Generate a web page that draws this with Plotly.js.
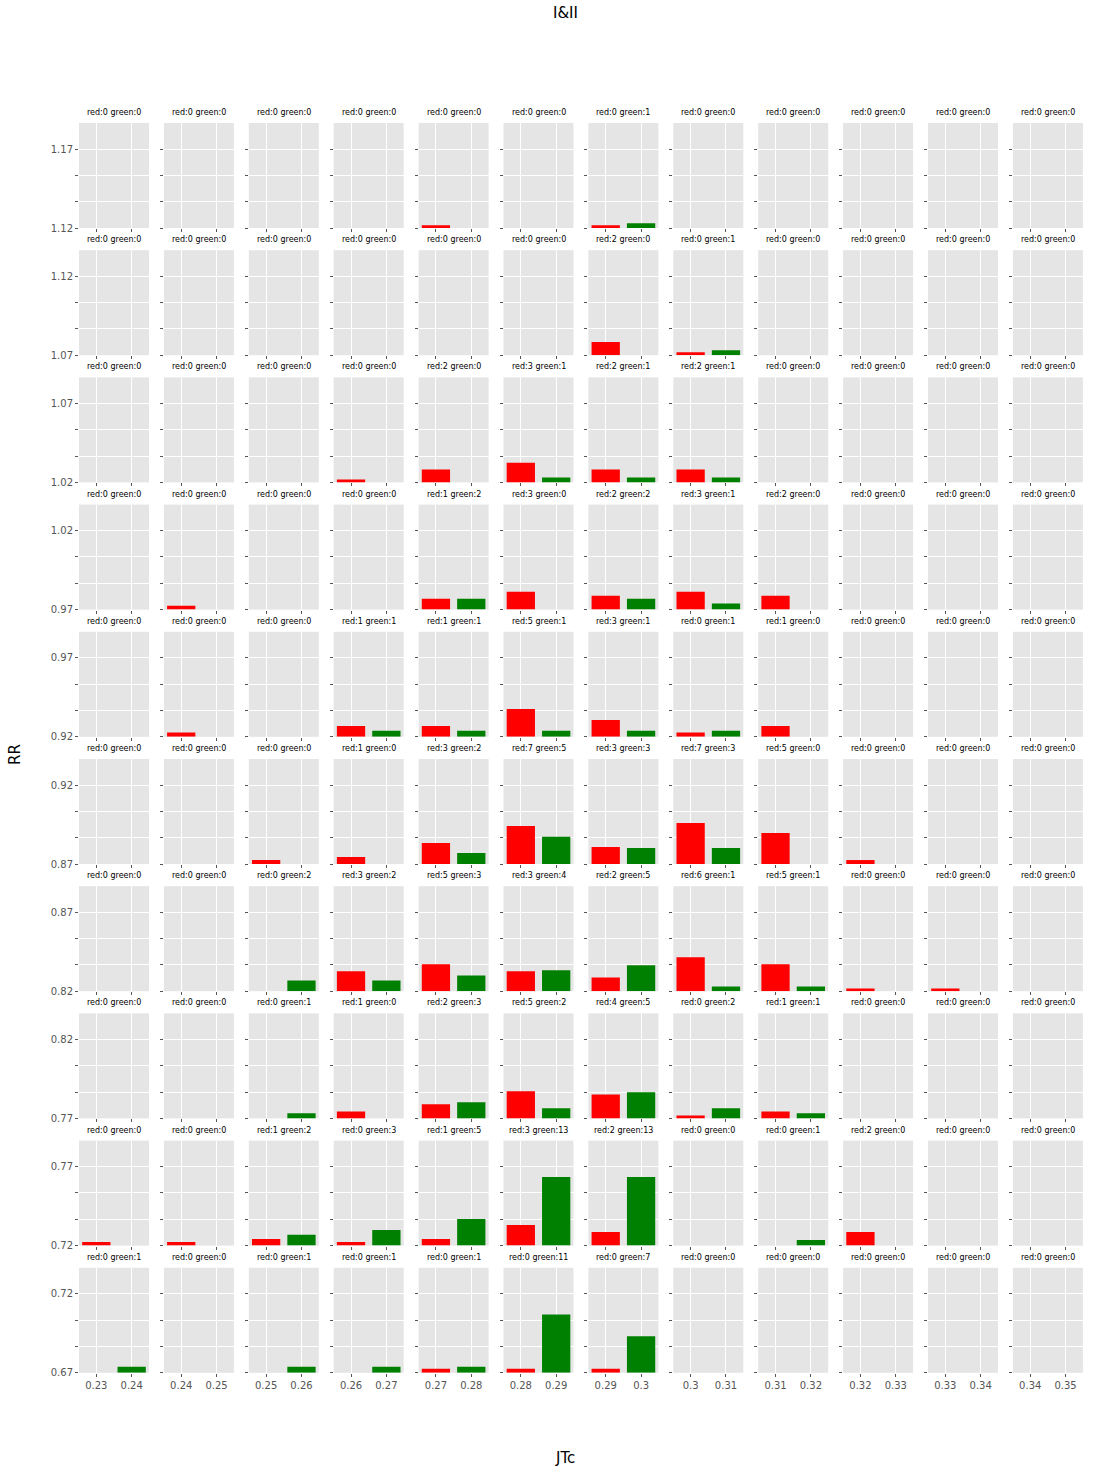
<!DOCTYPE html>
<html>
<head>
<meta charset="utf-8">
<script src="https://cdn.plot.ly/plotly-3.0.1.min.js"></script>
<style>
  html, body { margin: 0; padding: 0; background: #fff; }
  #chart { width: 1093px; height: 1474px; }
</style>
</head>
<body>
<div id="chart"></div>
<script>
// ---- data (rows top->bottom, cols left->right) ----
const rowBases = [1.12, 1.07, 1.02, 0.97, 0.92, 0.87, 0.82, 0.77, 0.72, 0.67];
const rowTopLabels = ['1.17', '1.12', '1.07', '1.02', '0.97', '0.92', '0.87', '0.82', '0.77', '0.72'];
const rowBaseLabels = ['1.12', '1.07', '1.02', '0.97', '0.92', '0.87', '0.82', '0.77', '0.72', '0.67'];

const colCats = [
  ['0.23', '0.24'], ['0.24', '0.25'], ['0.25', '0.26'], ['0.26', '0.27'],
  ['0.27', '0.28'], ['0.28', '0.29'], ['0.29', '0.3'],  ['0.3', '0.31'],
  ['0.31', '0.32'], ['0.32', '0.33'], ['0.33', '0.34'], ['0.34', '0.35']
];

// bar heights above each row's base
const redHeights = [
  [0, 0, 0, 0, 0.0017, 0, 0.0017, 0, 0, 0, 0, 0],
  [0, 0, 0, 0, 0, 0, 0.0083, 0.0019, 0, 0, 0, 0],
  [0, 0, 0, 0.0019, 0.0081, 0.0125, 0.0081, 0.0081, 0, 0, 0, 0],
  [0, 0.0025, 0, 0, 0.0069, 0.0113, 0.0088, 0.0113, 0.0088, 0, 0, 0],
  [0, 0.0027, 0, 0.0069, 0.0069, 0.0176, 0.0107, 0.0027, 0.0069, 0, 0, 0],
  [0, 0, 0.0025, 0.0044, 0.0133, 0.0241, 0.0108, 0.026, 0.0197, 0.0025, 0, 0],
  [0, 0, 0, 0.0126, 0.017, 0.0126, 0.0087, 0.0215, 0.017, 0.0017, 0.0017, 0],
  [0, 0, 0, 0.0044, 0.0089, 0.0172, 0.0152, 0.0019, 0.0044, 0, 0, 0],
  [0.0023, 0.0023, 0.0042, 0.0023, 0.0042, 0.0131, 0.0086, 0, 0, 0.0086, 0, 0],
  [0, 0, 0, 0, 0.0025, 0.0025, 0.0025, 0, 0, 0, 0, 0]
];
const greenHeights = [
  [0, 0, 0, 0, 0, 0, 0.003, 0, 0, 0, 0, 0],
  [0, 0, 0, 0, 0, 0, 0, 0.0032, 0, 0, 0, 0],
  [0, 0, 0, 0, 0, 0.0031, 0.0031, 0.0031, 0, 0, 0, 0],
  [0, 0, 0, 0, 0.0069, 0, 0.0069, 0.0038, 0, 0, 0, 0],
  [0, 0, 0, 0.0038, 0.0038, 0.0038, 0.0038, 0.0038, 0, 0, 0, 0],
  [0, 0, 0, 0, 0.007, 0.0172, 0.0102, 0.0102, 0, 0, 0, 0],
  [0, 0, 0.0068, 0.0068, 0.010, 0.0132, 0.0164, 0.003, 0.003, 0, 0, 0],
  [0, 0, 0.0032, 0, 0.0102, 0.0064, 0.0165, 0.0064, 0.0032, 0, 0, 0],
  [0, 0, 0.0068, 0.0099, 0.0169, 0.0435, 0.0435, 0, 0.0036, 0, 0, 0],
  [0.0038, 0, 0.0038, 0.0038, 0.0038, 0.037, 0.0232, 0, 0, 0, 0, 0]
];

// counts shown in each panel title
const redCounts = [
  [0, 0, 0, 0, 0, 0, 0, 0, 0, 0, 0, 0],
  [0, 0, 0, 0, 0, 0, 2, 0, 0, 0, 0, 0],
  [0, 0, 0, 0, 2, 3, 2, 2, 0, 0, 0, 0],
  [0, 0, 0, 0, 1, 3, 2, 3, 2, 0, 0, 0],
  [0, 0, 0, 1, 1, 5, 3, 0, 1, 0, 0, 0],
  [0, 0, 0, 1, 3, 7, 3, 7, 5, 0, 0, 0],
  [0, 0, 0, 3, 5, 3, 2, 6, 5, 0, 0, 0],
  [0, 0, 0, 1, 2, 5, 4, 0, 1, 0, 0, 0],
  [0, 0, 1, 0, 1, 3, 2, 0, 0, 2, 0, 0],
  [0, 0, 0, 0, 0, 0, 0, 0, 0, 0, 0, 0]
];
const greenCounts = [
  [0, 0, 0, 0, 0, 0, 1, 0, 0, 0, 0, 0],
  [0, 0, 0, 0, 0, 0, 0, 1, 0, 0, 0, 0],
  [0, 0, 0, 0, 0, 1, 1, 1, 0, 0, 0, 0],
  [0, 0, 0, 0, 2, 0, 2, 1, 0, 0, 0, 0],
  [0, 0, 0, 1, 1, 1, 1, 1, 0, 0, 0, 0],
  [0, 0, 0, 0, 2, 5, 3, 3, 0, 0, 0, 0],
  [0, 0, 2, 2, 3, 4, 5, 1, 1, 0, 0, 0],
  [0, 0, 1, 0, 3, 2, 5, 2, 1, 0, 0, 0],
  [0, 0, 2, 3, 5, 13, 13, 0, 1, 0, 0, 0],
  [1, 0, 1, 1, 1, 11, 7, 0, 0, 0, 0, 0]
];

// ---- geometry (pixels) ----
const W = 1093, H = 1474;
const colLeft0 = 79, colStep = 84.9, panelW = 70;
const rowTop0 = 123, rowStep = 127.2, panelH = 105;
const ySpan = 0.0665, tickStep = 0.05 / 3;
const tickFont = { family: 'DejaVu Sans, sans-serif', size: 10, color: '#555555' };

const px = v => v / W;
const py = v => 1 - v / H;

const traces = [];
const annotations = [];
const layout = {
  width: W, height: H,
  margin: { l: 0, r: 0, t: 0, b: 0 },
  paper_bgcolor: '#ffffff',
  plot_bgcolor: '#E5E5E5',
  showlegend: false,
  font: { family: 'DejaVu Sans, sans-serif', color: '#555555' }
};

for (let r = 0; r < rowBases.length; r++) {
  for (let c = 0; c < colCats.length; c++) {
    const k = r * colCats.length + c + 1;
    const sfx = k === 1 ? '' : String(k);
    const left = colLeft0 + c * colStep;
    const top = rowTop0 + r * rowStep;
    const base = rowBases[r];
    const lastRow = r === rowBases.length - 1;

    traces.push({
      type: 'bar',
      x: colCats[c],
      y: [redHeights[r][c], greenHeights[r][c]],
      base: base,
      width: 0.8,
      marker: { color: ['#FF0000', '#008000'], line: { width: 0 } },
      xaxis: 'x' + sfx,
      yaxis: 'y' + sfx,
      hoverinfo: 'skip'
    });

    layout['xaxis' + sfx] = {
      domain: [px(left), px(left + panelW)],
      anchor: 'y' + sfx,
      type: 'category',
      range: [-0.49, 1.49],
      showgrid: true, gridcolor: '#ffffff', gridwidth: 1,
      zeroline: false, showline: false,
      ticks: 'outside', ticklen: 3, tickcolor: '#555555',
      showticklabels: lastRow,
      tickfont: tickFont,
      fixedrange: true
    };

    layout['yaxis' + sfx] = {
      domain: [py(top + panelH), py(top)],
      anchor: 'x' + sfx,
      range: [base, base + ySpan],
      tickvals: [base, base + tickStep, base + 2 * tickStep, base + 3 * tickStep],
      ticktext: c === 0 ? [rowBaseLabels[r], '', '', rowTopLabels[r]] : ['', '', '', ''],
      showgrid: true, gridcolor: '#ffffff', gridwidth: 1,
      zeroline: false, showline: false,
      ticks: 'outside', ticklen: 3, tickcolor: '#555555',
      tickfont: tickFont,
      fixedrange: true
    };

    annotations.push({
      xref: 'paper', yref: 'paper',
      x: px(left + panelW / 2), y: py(top - 4),
      xanchor: 'center', yanchor: 'bottom',
      text: 'red:' + redCounts[r][c] + ' green:' + greenCounts[r][c],
      showarrow: false,
      font: { family: 'DejaVu Sans, sans-serif', size: 8, color: '#000000' }
    });
  }
}

// figure titles
annotations.push({
  xref: 'paper', yref: 'paper', x: px(565), y: py(13),
  xanchor: 'center', yanchor: 'middle', showarrow: false,
  text: 'I&amp;II', font: { family: 'DejaVu Sans, sans-serif', size: 15, color: '#000000' }
});
annotations.push({
  xref: 'paper', yref: 'paper', x: px(565), y: py(1458),
  xanchor: 'center', yanchor: 'middle', showarrow: false,
  text: 'JTc', font: { family: 'DejaVu Sans, sans-serif', size: 15, color: '#000000' }
});
annotations.push({
  xref: 'paper', yref: 'paper', x: px(15), y: py(755),
  xanchor: 'center', yanchor: 'middle', showarrow: false, textangle: -90,
  text: 'RR', font: { family: 'DejaVu Sans, sans-serif', size: 15, color: '#000000' }
});

layout.annotations = annotations;

Plotly.newPlot('chart', traces, layout, { staticPlot: true, displayModeBar: false });
</script>
</body>
</html>
